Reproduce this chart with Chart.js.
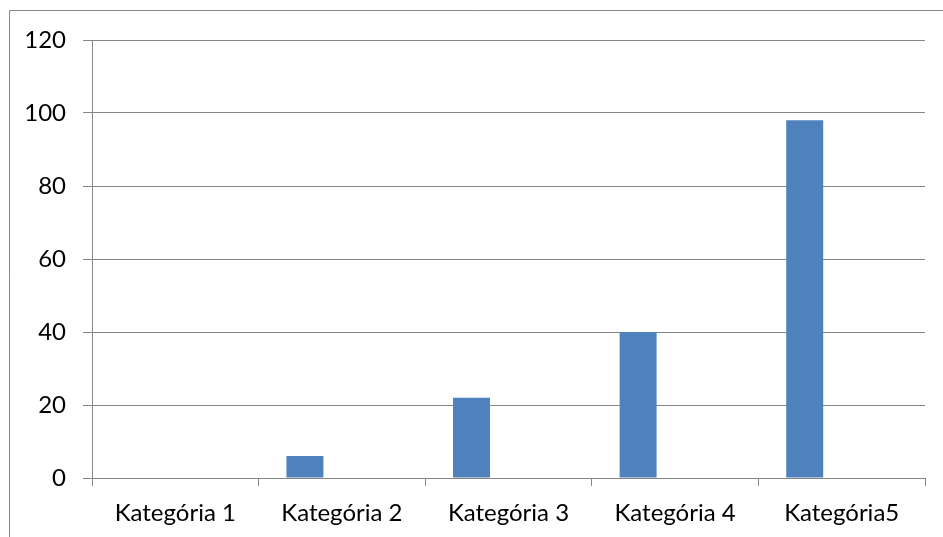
<!DOCTYPE html>
<html>
<head>
<meta charset="utf-8">
<title>Kategória chart</title>
<script src="https://cdn.jsdelivr.net/npm/chart.js@4"></script>
<style>
  html, body { margin: 0; padding: 0; background: #fff; }
  #wrap { position: relative; width: 943px; height: 537px; }
</style>
</head>
<body>
<div id="wrap"><canvas id="chart"></canvas></div>
<script>
// data
const categories = ['Kategória 1', 'Kategória 2', 'Kategória 3', 'Kategória 4', 'Kategória5'];
const series1 = [0, 6, 22, 40, 98];
// two empty series keep the first bar in the left third of each slot
const series2 = [null, null, null, null, null];
const series3 = [null, null, null, null, null];
const yTicks = [0, 20, 40, 60, 80, 100, 120];

const gray = '#868686';
const font = {family: 'Lato, "Liberation Sans", sans-serif', size: 24};

// frame around the chart, cut off on the right and bottom
const frame = {
    id: 'frame',
    beforeDraw(chart) {
        let ctx = chart.ctx;
        ctx.save();
        ctx.strokeStyle = gray;
        ctx.lineWidth = 1;
        ctx.beginPath();
        ctx.moveTo(9.5, chart.height);
        ctx.lineTo(9.5, 10.5);
        ctx.lineTo(chart.width, 10.5);
        ctx.stroke();
        ctx.restore();
    }
};

let ctx = document.getElementById('chart').getContext('2d');
let chart = new Chart(ctx, {
    type: 'bar',
    data: {
        labels: categories,
        datasets: [{
            label: 'Series 1',
            data: series1,
            backgroundColor: '#4F81BD'
        }, {
            label: 'Series 2',
            data: series2,
            backgroundColor: '#C0504D'
        }, {
            label: 'Series 3',
            data: series3,
            backgroundColor: '#9BBB59'
        }]
    },
    options: {
        responsive: true,
        maintainAspectRatio: false,
        animation: false,
        layout: {padding: {top: 40, right: 18, left: 0, bottom: 0}},
        datasets: {bar: {categoryPercentage: 0.666, barPercentage: 1}},
        plugins: {legend: {display: false}, tooltip: {enabled: false}},
        scales: {
            x: {
                grid: {drawOnChartArea: false, color: gray, tickLength: 8, offset: true},
                border: {color: gray},
                ticks: {color: '#000', font: font, padding: 13, maxRotation: 0},
                afterFit(scale) { scale.height = 59; }
            },
            y: {
                min: 0,
                max: 120,
                afterBuildTicks(scale) { scale.ticks = yTicks.map(v => ({value: v})); },
                grid: {color: gray, tickLength: 9},
                border: {color: gray},
                ticks: {color: '#000', font: font, padding: 17},
                afterFit(scale) { scale.width = 92; }
            }
        }
    },
    plugins: [frame]
});
</script>
</body>
</html>
